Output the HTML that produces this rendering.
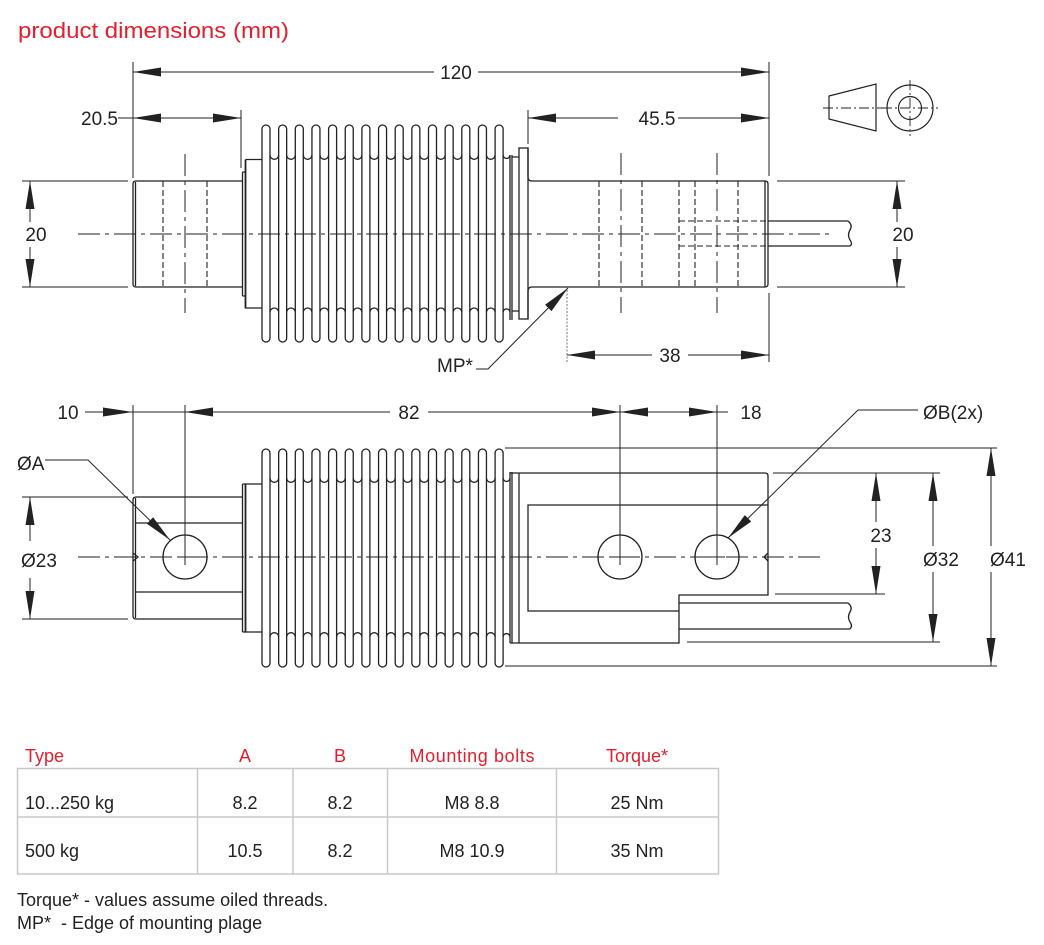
<!DOCTYPE html>
<html><head><meta charset="utf-8"><style>
html,body{margin:0;padding:0;background:#fff;}
svg{display:block;}
text{font-family:"Liberation Sans",sans-serif;}
.d{font-size:19px;fill:#222;}
.t{font-size:18px;fill:#222;}
.r{fill:#e31e2d;}
</style></head><body>
<svg width="1044" height="945" viewBox="0 0 1044 945" xmlns="http://www.w3.org/2000/svg">
<rect width="1044" height="945" fill="#fff"/>
<text x="18" y="38" class="r" style="font-size:22px" textLength="271" lengthAdjust="spacingAndGlyphs">product dimensions (mm)</text>

<!-- ================= TOP VIEW ================= -->
<g fill="none" stroke="#222" stroke-width="1.3">
  <!-- left shaft -->
  <path d="M242.5,181 H136 Q133,181 133,184 V284 Q133,287 136,287 H242.5"/>
  <line x1="135.5" y1="182" x2="135.5" y2="286"/>
  <!-- left flange -->
  <path d="M242.5,172 V296 M242.5,172 H245.5 M242.5,296 H245.5"/>
  <path d="M245.5,159.5 V308.5" stroke-width="1.8"/>
  <path d="M245.5,159.5 H262 M245.5,308 H262"/>
  <!-- bellows fins top view -->
  <g>
    <rect x="262" y="125" width="8" height="217" rx="4"/>
    <rect x="278.65" y="125" width="8" height="217" rx="4"/>
    <rect x="295.3" y="125" width="8" height="217" rx="4"/>
    <rect x="311.95" y="125" width="8" height="217" rx="4"/>
    <rect x="328.6" y="125" width="8" height="217" rx="4"/>
    <rect x="345.25" y="125" width="8" height="217" rx="4"/>
    <rect x="361.9" y="125" width="8" height="217" rx="4"/>
    <rect x="378.55" y="125" width="8" height="217" rx="4"/>
    <rect x="395.2" y="125" width="8" height="217" rx="4"/>
    <rect x="411.85" y="125" width="8" height="217" rx="4"/>
    <rect x="428.5" y="125" width="8" height="217" rx="4"/>
    <rect x="445.15" y="125" width="8" height="217" rx="4"/>
    <rect x="461.8" y="125" width="8" height="217" rx="4"/>
    <rect x="478.45" y="125" width="8" height="217" rx="4"/>
    <rect x="495.1" y="125" width="8" height="217" rx="4"/>
  </g>
  <path d="M270,155 a4.325,4.325 0 0 0 8.65,0 M286.65,155 a4.325,4.325 0 0 0 8.65,0 M303.3,155 a4.325,4.325 0 0 0 8.65,0 M319.95,155 a4.325,4.325 0 0 0 8.65,0 M336.6,155 a4.325,4.325 0 0 0 8.65,0 M353.25,155 a4.325,4.325 0 0 0 8.65,0 M369.9,155 a4.325,4.325 0 0 0 8.65,0 M386.55,155 a4.325,4.325 0 0 0 8.65,0 M403.2,155 a4.325,4.325 0 0 0 8.65,0 M419.85,155 a4.325,4.325 0 0 0 8.65,0 M436.5,155 a4.325,4.325 0 0 0 8.65,0 M453.15,155 a4.325,4.325 0 0 0 8.65,0 M469.8,155 a4.325,4.325 0 0 0 8.65,0 M486.45,155 a4.325,4.325 0 0 0 8.65,0 M503.1,155 a3.45,3.45 0 0 0 6.9,0"/>
  <path d="M270,312.3 a4.325,4.325 0 0 1 8.65,0 M286.65,312.3 a4.325,4.325 0 0 1 8.65,0 M303.3,312.3 a4.325,4.325 0 0 1 8.65,0 M319.95,312.3 a4.325,4.325 0 0 1 8.65,0 M336.6,312.3 a4.325,4.325 0 0 1 8.65,0 M353.25,312.3 a4.325,4.325 0 0 1 8.65,0 M369.9,312.3 a4.325,4.325 0 0 1 8.65,0 M386.55,312.3 a4.325,4.325 0 0 1 8.65,0 M403.2,312.3 a4.325,4.325 0 0 1 8.65,0 M419.85,312.3 a4.325,4.325 0 0 1 8.65,0 M436.5,312.3 a4.325,4.325 0 0 1 8.65,0 M453.15,312.3 a4.325,4.325 0 0 1 8.65,0 M469.8,312.3 a4.325,4.325 0 0 1 8.65,0 M486.45,312.3 a4.325,4.325 0 0 1 8.65,0 M503.1,312.3 a3.45,3.45 0 0 1 6.9,0"/>
  <!-- right flange -->
  <path d="M510,155 V320 M512,155 V320 M512,157 H519 M512,311 H519"/>
  <rect x="519" y="148" width="9" height="171"/>
  <!-- right shaft -->
  <path d="M528,148 V177 Q528,181 532,181 H765 Q768,181 768,184 V284 Q768,287 765,287 H532 Q528,287 528,291 V319"/>
  <line x1="765" y1="181" x2="765" y2="287"/>
  <!-- cable -->
  <path d="M768,221 H848 M768,246 H850"/>
  <path d="M848,221 Q853,225 850,230 Q847,235 850,240 Q853,244 850,246"/>
</g>
<!-- hidden lines top view -->
<g fill="none" stroke="#222" stroke-width="1.1" stroke-dasharray="6 3">
  <line x1="163" y1="181" x2="163" y2="287"/>
  <line x1="207" y1="181" x2="207" y2="287"/>
  <line x1="599" y1="181" x2="599" y2="287"/>
  <line x1="642" y1="181" x2="642" y2="287"/>
  <line x1="679" y1="181" x2="679" y2="287"/>
  <line x1="695" y1="181" x2="695" y2="287"/>
  <line x1="738" y1="181" x2="738" y2="287"/>
  <path d="M679,221 H766 M679,246 H766"/>
</g>
<!-- center lines top -->
<g fill="none" stroke="#222" stroke-width="1" stroke-dasharray="22 5 4 5">
  <line x1="78" y1="234" x2="830" y2="234"/>
  <line x1="185" y1="154" x2="185" y2="313"/>
  <line x1="621" y1="153" x2="621" y2="313"/>
  <line x1="717" y1="153" x2="717" y2="313"/>
</g>
<!-- dimension lines top -->
<g fill="none" stroke="#222" stroke-width="1">
  <line x1="133" y1="62" x2="133" y2="178"/>
  <line x1="769" y1="62" x2="769" y2="176"/>
  <line x1="769" y1="293" x2="769" y2="362"/>
  <line x1="241" y1="110" x2="241" y2="168"/>
  <line x1="528" y1="110" x2="528" y2="144"/>
  <line x1="133" y1="72" x2="434" y2="72"/>
  <line x1="478" y1="72" x2="769" y2="72"/>
  <line x1="118" y1="118" x2="241" y2="118"/>
  <line x1="528" y1="118" x2="618" y2="118"/>
  <line x1="678" y1="118" x2="769" y2="118"/>
  <line x1="22" y1="181" x2="128" y2="181"/>
  <line x1="22" y1="287" x2="128" y2="287"/>
  <line x1="30" y1="181" x2="30" y2="222"/>
  <line x1="30" y1="247" x2="30" y2="287"/>
  <line x1="777" y1="181" x2="905" y2="181"/>
  <line x1="777" y1="287" x2="905" y2="287"/>
  <line x1="897" y1="181" x2="897" y2="222"/>
  <line x1="897" y1="247" x2="897" y2="287"/>
  <line x1="567" y1="355" x2="652" y2="355"/>
  <line x1="688" y1="355" x2="769" y2="355"/>
  <line x1="567" y1="290" x2="567" y2="362" stroke="#666" stroke-width="0.9" stroke-dasharray="2 1.5"/>
  <path d="M568,288 L488,369 H476"/>
</g>
<g fill="#222" stroke="none">
  <polygon points="133,72 161,67.5 161,76.5"/>
  <polygon points="769,72 741,67.5 741,76.5"/>
  <polygon points="133,118 161,113.5 161,122.5"/>
  <polygon points="241,118 213,113.5 213,122.5"/>
  <polygon points="528,118 556,113.5 556,122.5"/>
  <polygon points="769,118 741,113.5 741,122.5"/>
  <polygon points="30,181 25.5,209 34.5,209"/>
  <polygon points="30,287 25.5,259 34.5,259"/>
  <polygon points="897,181 892.5,209 901.5,209"/>
  <polygon points="897,287 892.5,259 901.5,259"/>
  <polygon points="567,355 595,350.5 595,359.5"/>
  <polygon points="769,355 741,350.5 741,359.5"/>
  <polygon points="568,288 551.5,311.1 545.1,304.7"/>
</g>
<text class="d" x="456" y="79" text-anchor="middle">120</text>
<text class="d" x="118" y="125" text-anchor="end">20.5</text>
<text class="d" x="657" y="125" text-anchor="middle">45.5</text>
<text class="d" x="36" y="241" text-anchor="middle">20</text>
<text class="d" x="903" y="241" text-anchor="middle">20</text>
<text class="d" x="670" y="362" text-anchor="middle">38</text>
<text class="d" x="437" y="372">MP*</text>

<!-- cone symbol -->
<g fill="none" stroke="#222" stroke-width="1.2">
  <path d="M829,96 L876,84 V131 L829,119 Z"/>
  <circle cx="910" cy="108" r="23"/>
  <circle cx="910" cy="108" r="11.5"/>
</g>
<g fill="none" stroke="#222" stroke-width="0.9" stroke-dasharray="10 3 2 3">
  <line x1="823" y1="108" x2="882" y2="108"/>
  <line x1="882" y1="108" x2="938" y2="108"/>
  <line x1="910" y1="80" x2="910" y2="136"/>
</g>

<!-- ================= BOTTOM VIEW ================= -->
<g fill="none" stroke="#222" stroke-width="1.3">
  <path d="M242.5,497 H136 Q133,497 133,500 V616 Q133,619 136,619 H242.5"/>
  <line x1="135.5" y1="498" x2="135.5" y2="618"/>
  <path d="M135.5,523 H242.5 M135.5,592 H242.5"/>
  <path d="M133,553 L138,557 L133,561"/>
  <path d="M242.5,484 V632"/>
  <path d="M245.5,484 V632" stroke-width="1.8"/>
  <path d="M242.5,484 H262 M242.5,632 H262"/>
  <circle cx="185" cy="557" r="22"/>
  <g>
    <rect x="262" y="449" width="8" height="218" rx="4"/>
    <rect x="278.65" y="449" width="8" height="218" rx="4"/>
    <rect x="295.3" y="449" width="8" height="218" rx="4"/>
    <rect x="311.95" y="449" width="8" height="218" rx="4"/>
    <rect x="328.6" y="449" width="8" height="218" rx="4"/>
    <rect x="345.25" y="449" width="8" height="218" rx="4"/>
    <rect x="361.9" y="449" width="8" height="218" rx="4"/>
    <rect x="378.55" y="449" width="8" height="218" rx="4"/>
    <rect x="395.2" y="449" width="8" height="218" rx="4"/>
    <rect x="411.85" y="449" width="8" height="218" rx="4"/>
    <rect x="428.5" y="449" width="8" height="218" rx="4"/>
    <rect x="445.15" y="449" width="8" height="218" rx="4"/>
    <rect x="461.8" y="449" width="8" height="218" rx="4"/>
    <rect x="478.45" y="449" width="8" height="218" rx="4"/>
    <rect x="495.1" y="449" width="8" height="218" rx="4"/>
  </g>
  <path d="M270,478 a4.325,4.325 0 0 0 8.65,0 M286.65,478 a4.325,4.325 0 0 0 8.65,0 M303.3,478 a4.325,4.325 0 0 0 8.65,0 M319.95,478 a4.325,4.325 0 0 0 8.65,0 M336.6,478 a4.325,4.325 0 0 0 8.65,0 M353.25,478 a4.325,4.325 0 0 0 8.65,0 M369.9,478 a4.325,4.325 0 0 0 8.65,0 M386.55,478 a4.325,4.325 0 0 0 8.65,0 M403.2,478 a4.325,4.325 0 0 0 8.65,0 M419.85,478 a4.325,4.325 0 0 0 8.65,0 M436.5,478 a4.325,4.325 0 0 0 8.65,0 M453.15,478 a4.325,4.325 0 0 0 8.65,0 M469.8,478 a4.325,4.325 0 0 0 8.65,0 M486.45,478 a4.325,4.325 0 0 0 8.65,0 M503.1,478 a3.45,3.45 0 0 0 6.9,0"/>
  <path d="M270,637 a4.325,4.325 0 0 1 8.65,0 M286.65,637 a4.325,4.325 0 0 1 8.65,0 M303.3,637 a4.325,4.325 0 0 1 8.65,0 M319.95,637 a4.325,4.325 0 0 1 8.65,0 M336.6,637 a4.325,4.325 0 0 1 8.65,0 M353.25,637 a4.325,4.325 0 0 1 8.65,0 M369.9,637 a4.325,4.325 0 0 1 8.65,0 M386.55,637 a4.325,4.325 0 0 1 8.65,0 M403.2,637 a4.325,4.325 0 0 1 8.65,0 M419.85,637 a4.325,4.325 0 0 1 8.65,0 M436.5,637 a4.325,4.325 0 0 1 8.65,0 M453.15,637 a4.325,4.325 0 0 1 8.65,0 M469.8,637 a4.325,4.325 0 0 1 8.65,0 M486.45,637 a4.325,4.325 0 0 1 8.65,0 M503.1,637 a3.45,3.45 0 0 1 6.9,0"/>
  <path d="M510,472 V643 M512,472 V643"/>
  <path d="M510,473 H765 Q768,473 768,476 V595 H679 V643 H510"/>
  <line x1="519" y1="473" x2="519" y2="643"/>
  <path d="M768,505 H528 V611 H679"/>
  <path d="M768,553 L764,557 L768,561"/>
  <circle cx="620" cy="557" r="22"/>
  <circle cx="717" cy="557" r="22"/>
  <path d="M679,603 H848 M679,629 H850"/>
  <path d="M848,603 Q853,607 850,612 Q847,617 850,622 Q853,626 850,629"/>
</g>
<g fill="none" stroke="#222" stroke-width="1" stroke-dasharray="22 5 4 5">
  <line x1="78" y1="557" x2="822" y2="557"/>
</g>
<g fill="none" stroke="#222" stroke-width="1">
  <!-- crosses and ext to hole centers -->
  <path d="M185,405 V565 M177,557 H193"/>
  <path d="M620,405 V565 M612,557 H628"/>
  <path d="M717,405 V565 M709,557 H725"/>
  <line x1="133" y1="405" x2="133" y2="494"/>
  <line x1="85" y1="412" x2="185" y2="412"/>
  <line x1="185" y1="412" x2="390" y2="412"/>
  <line x1="428" y1="412" x2="728" y2="412"/>
  <!-- left Ø23 -->
  <line x1="22" y1="497" x2="128" y2="497"/>
  <line x1="22" y1="619" x2="128" y2="619"/>
  <line x1="30" y1="497" x2="30" y2="541"/>
  <line x1="30" y1="578" x2="30" y2="619"/>
  <!-- right dims -->
  <line x1="505" y1="448" x2="997" y2="448"/>
  <line x1="505" y1="666" x2="997" y2="666"/>
  <line x1="773" y1="473" x2="940" y2="473"/>
  <line x1="687" y1="642" x2="940" y2="642"/>
  <line x1="775" y1="594" x2="885" y2="594"/>
  <line x1="876" y1="473" x2="876" y2="522"/>
  <line x1="876" y1="548" x2="876" y2="594"/>
  <line x1="933" y1="473" x2="933" y2="546"/>
  <line x1="933" y1="572" x2="933" y2="642"/>
  <line x1="991" y1="448" x2="991" y2="546"/>
  <line x1="991" y1="572" x2="991" y2="666"/>
  <!-- leaders -->
  <path d="M45,460 H88 L170,540"/>
  <path d="M918,410 H858 L728,538"/>
</g>
<g fill="#222" stroke="none">
  <polygon points="133,412 103,407.5 103,416.5"/>
  <polygon points="185,412 213,407.5 213,416.5"/>
  <polygon points="620,412 592,407.5 592,416.5"/>
  <polygon points="620,412 648,407.5 648,416.5"/>
  <polygon points="717,412 689,407.5 689,416.5"/>
  <polygon points="30,497 25.5,525 34.5,525"/>
  <polygon points="30,619 25.5,591 34.5,591"/>
  <polygon points="876,473 871.5,501 880.5,501"/>
  <polygon points="876,594 871.5,566 880.5,566"/>
  <polygon points="933,473 928.5,501 937.5,501"/>
  <polygon points="933,642 928.5,614 937.5,614"/>
  <polygon points="991,448 986.5,476 995.5,476"/>
  <polygon points="991,666 986.5,638 995.5,638"/>
  <polygon points="170,540 153.1,517.3 146.9,523.7"/>
  <polygon points="728,538 751.2,521.5 744.8,515.1"/>
</g>
<text class="d" x="68" y="419" text-anchor="middle">10</text>
<text class="d" x="409" y="419" text-anchor="middle">82</text>
<text class="d" x="751" y="419" text-anchor="middle">18</text>
<text class="d" x="923" y="419">ØB(2x)</text>
<text class="d" x="17" y="470">ØA</text>
<text class="d" x="39" y="567" text-anchor="middle">Ø23</text>
<text class="d" x="881" y="542" text-anchor="middle">23</text>
<text class="d" x="941" y="566" text-anchor="middle">Ø32</text>
<text class="d" x="1008" y="566" text-anchor="middle">Ø41</text>

<!-- ================= TABLE ================= -->
<g fill="none" stroke="#c8c8c8" stroke-width="1.5">
  <rect x="17.5" y="768.5" width="701" height="105.5"/>
  <line x1="17.5" y1="817" x2="718.5" y2="817"/>
  <line x1="197.5" y1="768.5" x2="197.5" y2="874"/>
  <line x1="293" y1="768.5" x2="293" y2="874"/>
  <line x1="387.5" y1="768.5" x2="387.5" y2="874"/>
  <line x1="556.5" y1="768.5" x2="556.5" y2="874"/>
</g>
<g class="t r" style="font-size:18px">
  <text x="25" y="762" class="r">Type</text>
  <text x="245" y="762" text-anchor="middle" class="r">A</text>
  <text x="340" y="762" text-anchor="middle" class="r">B</text>
  <text x="472" y="762" text-anchor="middle" class="r" textLength="125" lengthAdjust="spacing">Mounting bolts</text>
  <text x="637" y="762" text-anchor="middle" class="r">Torque*</text>
</g>
<g>
  <text class="t" x="25" y="809">10...250 kg</text>
  <text class="t" x="245" y="809" text-anchor="middle">8.2</text>
  <text class="t" x="340" y="809" text-anchor="middle">8.2</text>
  <text class="t" x="472" y="809" text-anchor="middle">M8 8.8</text>
  <text class="t" x="637" y="809" text-anchor="middle">25 Nm</text>
  <text class="t" x="25" y="857">500 kg</text>
  <text class="t" x="245" y="857" text-anchor="middle">10.5</text>
  <text class="t" x="340" y="857" text-anchor="middle">8.2</text>
  <text class="t" x="472" y="857" text-anchor="middle">M8 10.9</text>
  <text class="t" x="637" y="857" text-anchor="middle">35 Nm</text>
  <text class="t" x="17" y="906">Torque* - values assume oiled threads.</text>
  <text class="t" x="17" y="929" style="white-space:pre">MP*  - Edge of mounting plage</text>
</g>
</svg>
</body></html>
